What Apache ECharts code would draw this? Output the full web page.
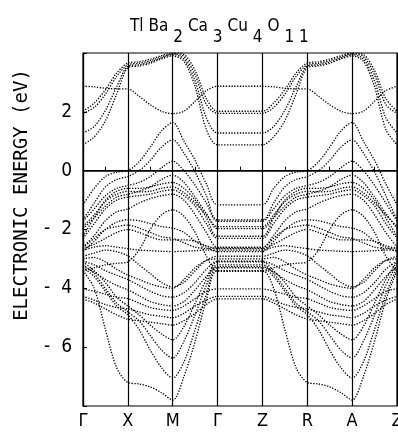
<!DOCTYPE html>
<html>
<head>
<meta charset="utf-8">
<script src="https://cdn.jsdelivr.net/npm/echarts@6/dist/echarts.min.js"></script>
<style>
  html, body { margin: 0; padding: 0; background: #fff; }
  #chart { width: 398px; height: 434px; }
</style>
</head>
<body>
<div id="chart"></div>
<script>
// symmetry points along the path
const kLabels = ['Γ', 'X', 'M', 'Γ', 'Z', 'R', 'A', 'Z'];
// sample positions inside one in-plane panel (Γ-X-M-Γ); Z-R-A-Z repeats it
const kIn = [0, 0.25, 0.5, 0.75, 1, 1.25, 1.5, 1.75, 2, 2.25, 2.5, 2.75, 3];
const yTickLabels = [2, 0, -2, -4, -6];

// bands above E_F
const bandU1 = [2.87, 2.85, 2.8, 2.78, 2.78, 2.53, 2.24, 2.02, 1.94, 2.02, 2.36, 2.72, 2.87];
const bandU2 = [2.02, 2.3, 2.75, 3.32, 3.66, 3.7, 3.79, 3.91, 4.0, 3.95, 3.4, 2.45, 2.02];
const bandU3 = [1.95, 2.15, 2.6, 3.2, 3.6, 3.65, 3.74, 3.87, 3.97, 3.88, 3.25, 2.25, 1.95];
const bandU4 = [1.28, 1.5, 2.05, 2.85, 3.55, 3.6, 3.69, 3.83, 3.94, 3.8, 3.05, 1.8, 1.28];
const bandU5 = [0.88, 1.15, 1.7, 2.6, 3.5, 3.56, 3.65, 3.8, 3.9, 3.72, 2.85, 1.4, 0.88];
// Cu-O bands crossing E_F
const bandD1 = [-1.16, -0.6, -0.2, -0.05, 0.0, 0.3, 0.8, 1.35, 1.64, 1.0, 0.35, -0.45, -1.16];
const bandD2 = [-1.67, -1.1, -0.55, -0.3, -0.2, 0.0, 0.35, 0.8, 1.05, 0.6, -0.05, -0.85, -1.67];
const bandD3 = [-1.72, -1.3, -0.85, -0.6, -0.5, -0.4, -0.2, 0.1, 0.32, 0.0, -0.5, -1.1, -1.72];
const bandD4 = [-1.97, -1.6, -1.2, -0.9, -0.8, -0.7, -0.55, -0.3, -0.15, -0.4, -0.9, -1.45, -1.97];
// dense valence block
const bandL1 = [-2.23, -1.6, -1.0, -0.7, -0.6, -0.6, -0.55, -0.45, -0.4, -0.6, -1.0, -1.6, -2.23];
const bandL2 = [-2.3, -1.8, -1.3, -1.0, -0.9, -0.85, -0.8, -0.7, -0.65, -0.85, -1.2, -1.8, -2.3];
const bandL3 = [-2.6, -2.2, -1.7, -1.4, -1.3, -1.1, -0.95, -0.85, -0.8, -1.0, -1.5, -2.1, -2.6];
const bandL4 = [-3.42, -3.3, -3.2, -3.15, -3.1, -2.7, -2.0, -1.5, -1.33, -1.55, -2.1, -2.9, -3.42];
const bandL5 = [-2.65, -2.5, -2.3, -2.1, -2.0, -2.1, -2.25, -2.35, -2.35, -2.35, -2.4, -2.55, -2.65];
const bandL6 = [-2.7, -2.6, -2.55, -2.6, -2.65, -2.7, -2.72, -2.74, -2.75, -2.74, -2.72, -2.7, -2.7];
const bandL7 = [-2.75, -2.4, -2.0, -1.75, -1.67, -1.7, -1.8, -1.9, -1.95, -2.1, -2.4, -2.6, -2.75];
const bandL8 = [-2.91, -2.8, -2.7, -2.75, -2.9, -3.2, -3.5, -3.8, -3.95, -3.8, -3.4, -3.05, -2.91];
const bandL9 = [-3.08, -3.2, -3.4, -3.55, -3.7, -3.9, -4.1, -4.25, -4.3, -4.15, -3.8, -3.35, -3.08];
const bandL10 = [-3.26, -3.45, -3.7, -3.9, -4.05, -4.25, -4.45, -4.55, -4.6, -4.45, -4.05, -3.6, -3.26];
const bandL11 = [-4.02, -4.1, -4.2, -4.3, -4.35, -4.5, -4.65, -4.72, -4.75, -4.6, -4.35, -4.1, -4.02];
const bandL12 = [-4.27, -4.4, -4.55, -4.65, -4.7, -4.8, -4.9, -4.95, -5.0, -4.85, -4.6, -4.4, -4.27];
const bandL13 = [-4.36, -4.5, -4.7, -4.9, -5.05, -5.1, -5.15, -5.2, -5.25, -5.1, -4.85, -4.55, -4.36];
const bandL14 = [-1.9, -1.5, -1.05, -0.8, -0.7, -0.72, -0.7, -0.6, -0.55, -0.75, -1.1, -1.5, -1.9];
const bandL15 = [-2.62, -2.3, -2.0, -1.9, -1.85, -1.95, -2.1, -2.25, -2.3, -2.45, -2.6, -2.65, -2.62];
const bandL16 = [-3.0, -2.95, -3.1, -3.35, -3.55, -3.7, -3.85, -3.95, -4.0, -3.7, -3.3, -3.05, -3.0];
// deep bands with minimum at M
const bandP1 = [-3.3, -3.6, -4.1, -4.6, -4.9, -5.4, -6.1, -6.7, -7.05, -6.5, -5.4, -4.2, -3.3];
const bandP2 = [-3.2, -3.5, -4.0, -4.5, -4.8, -5.1, -5.6, -6.1, -6.37, -5.8, -4.9, -3.9, -3.2];
const bandP3 = [-3.1, -3.4, -3.8, -4.3, -4.6, -4.9, -5.25, -5.55, -5.75, -5.3, -4.5, -3.7, -3.1];
const bandB0 = [-3.4, -4.0, -5.4, -6.7, -7.2, -7.25, -7.35, -7.55, -7.8, -7.0, -5.8, -4.4, -3.4];

const bands = [bandU1, bandU2, bandU3, bandU4, bandU5, bandD1, bandD2, bandD3, bandD4,
  bandL1, bandL2, bandL3, bandL4, bandL5, bandL6, bandL7, bandL8, bandL9, bandL10,
  bandL11, bandL12, bandL13, bandL14, bandL15, bandL16, bandP1, bandP2, bandP3, bandB0];

// Γ-X-M-Γ, flat Γ-Z, then Z-R-A-Z with the same in-plane dispersion
function bandPath(b) {
  const first = kIn.map((k, i) => [k, b[i]]);
  const second = kIn.map((k, i) => [4 + k, b[i]]);
  return first.concat(second);
}

const series = bands.map((b, i) => ({
  type: 'line',
  data: bandPath(b),
  smooth: 0.3,
  showSymbol: false,
  silent: true,
  lineStyle: { color: '#000', width: 1.3, type: [1.3, 1.5] },
  markLine: i === 0 ? {
    silent: true, symbol: 'none', label: { show: false },
    lineStyle: { color: '#000', width: 1.5, type: 'solid' },
    data: [{ yAxis: 0 }]
  } : undefined
}));

const font = 'DejaVu Sans Condensed, DejaVu Sans, sans-serif';
const chart = echarts.init(document.getElementById('chart'));
chart.setOption({
  animation: false,
  backgroundColor: '#fff',
  textStyle: { fontFamily: font },
  title: {
    text: '{m|Tl Ba}{s| 2}{m|Ca}{s| 3}{m|Cu}{s| 4}{m|O}{s| 1 1}',
    left: 125, top: 13,
    textStyle: {
      rich: {
        m: { fontSize: 17, color: '#000', fontWeight: 'normal', fontFamily: font, padding: [0, 0, 11, 0] },
        s: { fontSize: 17, color: '#000', fontWeight: 'normal', fontFamily: font, padding: [11, 5, 0, 0] }
      }
    }
  },
  graphic: [{
    type: 'text', x: 22, y: 195, rotation: Math.PI / 2,
    style: {
      text: 'ELECTRONIC ENERGY (eV)', fill: '#000', fontSize: 19,
      fontFamily: 'DejaVu Sans Mono, monospace',
      align: 'center', verticalAlign: 'middle'
    }
  }],
  grid: {
    left: 83, right: 1, top: 53, bottom: 28, containLabel: false, outerBoundsMode: 'none',
    show: true, borderColor: '#000', borderWidth: 1.2
  },
  xAxis: {
    type: 'value', min: 0, max: 7, interval: 1,
    axisLine: { lineStyle: { color: '#000', width: 1.2 } },
    axisTick: { show: true, inside: true, length: 4, lineStyle: { color: '#000' } },
    minorTick: { show: true, splitNumber: 2, length: 4, lineStyle: { color: '#000' } },
    axisLabel: { color: '#000', fontSize: 18, margin: 6, formatter: v => kLabels[v] },
    splitLine: { show: true, lineStyle: { color: '#000', width: 1.2 } }
  },
  yAxis: {
    type: 'value', min: -8, max: 4, interval: 2,
    axisLine: { show: true, lineStyle: { color: '#000', width: 1.2 } },
    axisTick: { show: true, inside: true, length: 4, lineStyle: { color: '#000' } },
    axisLabel: {
      color: '#000', fontSize: 19, margin: 11,
      formatter: v => yTickLabels.includes(v) ? (v < 0 ? '-  ' + (-v) : String(v)) : ''
    },
    splitLine: { show: false }
  },
  series: series
});
</script>
</body>
</html>
